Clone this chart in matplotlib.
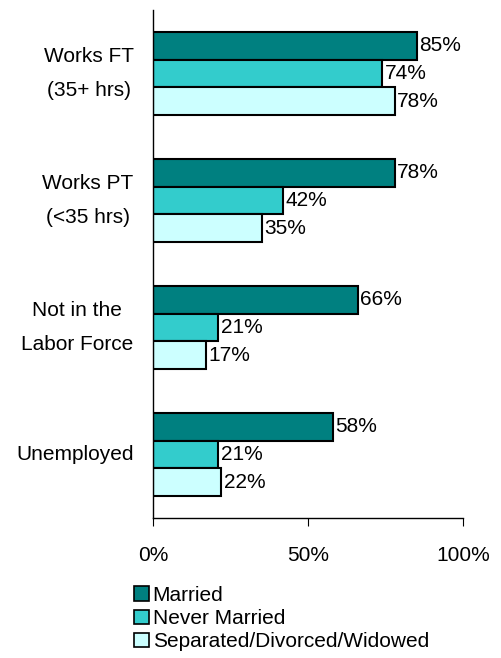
import matplotlib
matplotlib.use("Agg")
import matplotlib.pyplot as plt
from matplotlib.patches import Patch

categories = ["Works FT\n(35+ hrs)", "Works PT\n(<35 hrs)", "Not in the\nLabor Force", "Unemployed"]
series = ["Married", "Never Married", "Separated/Divorced/Widowed"]
married = [85, 78, 66, 58]
never_married = [74, 42, 21, 21]
separated = [78, 35, 17, 22]
colors = ["#008080", "#33CCCC", "#CCFFFF"]
xticks = [0, 50, 100]
xticklabels = ["0%", "50%", "100%"]

plt.rcParams['font.family'] = ['Liberation Sans Narrow', 'Liberation Sans', 'DejaVu Sans']
fs = 15

fig = plt.figure(figsize=(5.01, 6.58), dpi=100)
ax = fig.add_axes([153/501, 1 - 518/658, 310/501, 508/658])

h = 0.22
vals = [married, never_married, separated]
for j, (s, v) in enumerate(zip(series, vals)):
    ys = [i + (j - 1) * h for i in range(len(categories))]
    ax.barh(ys, v, height=h, color=colors[j], edgecolor="black", linewidth=1.5, label=s)
    for y, x in zip(ys, v):
        ax.text(x + 0.8, y, f"{x}%", va="center", ha="left", fontsize=fs)

ax.set_ylim(3.5, -0.5)
ax.set_xlim(0, 100)
ax.set_yticks(range(len(categories)))
ax.set_yticklabels(categories, fontsize=fs, multialignment="center", linespacing=2.0)
for t in ax.get_yticklabels():
    t.set_verticalalignment("center")
ax.tick_params(axis="y", length=0, pad=14)
ax.set_xticks(xticks)
ax.set_xticklabels(xticklabels, fontsize=fs)
ax.tick_params(axis="x", length=6, direction="out", pad=14)
for sp in ["top", "right"]:
    ax.spines[sp].set_visible(False)
ax.spines["left"].set_linewidth(1)
ax.spines["bottom"].set_linewidth(1)

handles = [Patch(facecolor=c, edgecolor="black", linewidth=1.2) for c in colors]
fig.legend(handles, series, loc="upper left", bbox_to_anchor=(134/501, 1 - 586/658),
           frameon=False, fontsize=fs, handlelength=0.7, handleheight=0.7,
           handletextpad=0.2, labelspacing=0.2, borderpad=0, borderaxespad=0)

fig.savefig("out.png", dpi=100)
